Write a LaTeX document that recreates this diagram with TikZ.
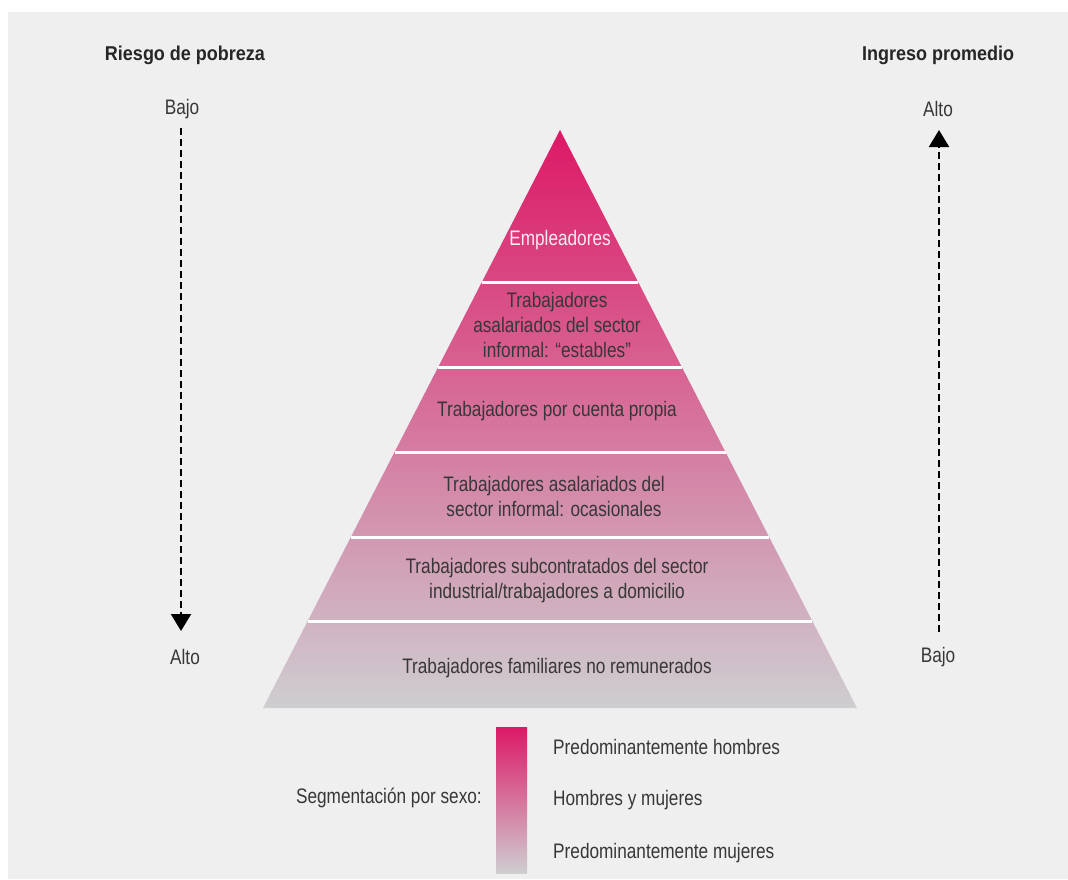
\documentclass[tikz,border=0pt]{standalone}
\usepackage{fontspec}
\setmainfont{Liberation Sans}[FakeStretch=0.82]
\newfontfamily\titlefont{Liberation Sans}[FakeStretch=0.9]
\usetikzlibrary{arrows.meta}
\definecolor{bg}{RGB}{239,239,239}
\definecolor{txt}{RGB}{55,55,55}
\definecolor{ptop}{RGB}{221,24,102}
\definecolor{pmid}{RGB}{214,132,146}
\definecolor{pbot}{RGB}{206,206,209}
\definecolor{wtxt}{RGB}{250,235,241}
\tikzset{
  lbl/.style={font=\fontsize{21}{25}\selectfont, text=txt, align=center, inner sep=0pt},
  ttl/.style={font=\titlefont\bfseries\fontsize{20}{25}\selectfont, text=black!85, inner sep=0pt},
  darr/.style={draw=black, line width=2pt, dash pattern=on 7pt off 4pt, -{Triangle[width=20pt,length=17pt]}},
  sep/.style={draw=white, line width=3pt},
  grad/.style={top color=ptop, middle color=pmid, bottom color=pbot}
}
\begin{document}
\begin{tikzpicture}[x=1pt,y=-1pt]
\useasboundingbox (0,0) rectangle (1068,879);
\fill[white] (0,0) rectangle (1068,879);
\fill[bg] (8,12) rectangle (1068,879);

% pyramid
\shade[grad] (560,130) -- (857,708) -- (263,708) -- cycle;
\coordinate (s1l) at (481.9,282); \coordinate (s1r) at (638.1,282);
\coordinate (s2l) at (438.2,367); \coordinate (s2r) at (681.8,367);
\coordinate (s3l) at (394.5,452); \coordinate (s3r) at (725.5,452);
\coordinate (s4l) at (350.9,537); \coordinate (s4r) at (769.1,537);
\coordinate (s5l) at (307.7,621); \coordinate (s5r) at (812.3,621);
\draw[sep] (s1l) -- (s1r);
\draw[sep] (s2l) -- (s2r);
\draw[sep] (s3l) -- (s3r);
\draw[sep] (s4l) -- (s4r);
\draw[sep] (s5l) -- (s5r);

\node[lbl, text=wtxt] (b1) at (560,240) {Empleadores};
\node[lbl] (b2) at (557,325) {Trabajadores\\asalariados del sector\\informal: “estables”};
\node[lbl] (b3) at (557,411) {Trabajadores por cuenta propia};
\node[lbl] (b4) at (554,496.5) {Trabajadores asalariados del\\sector informal: ocasionales};
\node[lbl] (b5) at (557,580.5) {Trabajadores subcontratados del sector\\industrial/trabajadores a domicilio};
\node[lbl] (b6) at (557,668) {Trabajadores familiares no remunerados};

% left axis
\node[ttl] (t1) at (185,55) {Riesgo de pobreza};
\node[lbl] (lb) at (182,109) {Bajo};
\node[lbl] (la) at (185,657) {Alto};
\coordinate (l1) at (181,128);
\coordinate (l2) at (181,631);
\draw[darr] (l1) -- (l2);

% right axis
\node[ttl] (t2) at (938,55) {Ingreso promedio};
\node[lbl] (ra) at (938,109) {Alto};
\node[lbl] (rb) at (938,657) {Bajo};
\coordinate (r1) at (939,632);
\coordinate (r2) at (939,130);
\draw[darr] (r1) -- (r2);

% legend
\node[lbl, anchor=east] (lg) at (482,798) {Segmentación por sexo:};
\shade[grad] (496,727) rectangle (527,873);
\node[lbl, anchor=west] (g1) at (553,747) {Predominantemente hombres};
\node[lbl, anchor=west] (g2) at (553,800) {Hombres y mujeres};
\node[lbl, anchor=west] (g3) at (553,853) {Predominantemente mujeres};
\end{tikzpicture}
\end{document}
